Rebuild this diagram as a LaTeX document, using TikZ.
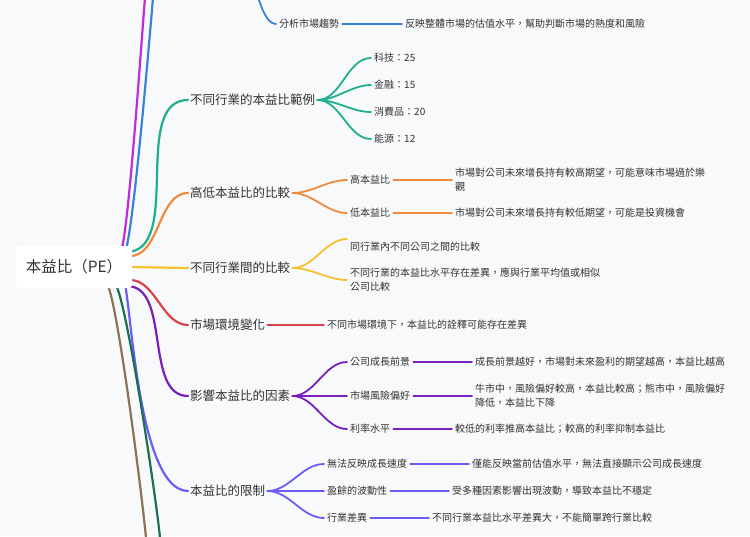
\documentclass[tikz,border=0pt]{standalone}
\usepackage{fontspec}
\setmainfont{Noto Sans CJK TC}
\definecolor{bgc}{HTML}{F8F9FB}
\definecolor{cmag}{HTML}{C02AD8}
\definecolor{cblue}{HTML}{3B82D6}
\definecolor{cteal}{HTML}{1FAE8F}
\definecolor{corange}{HTML}{F08A3C}
\definecolor{cyellow}{HTML}{F7C12E}
\definecolor{cred}{HTML}{D9434C}
\definecolor{cpurple}{HTML}{7A1FBF}
\definecolor{cviolet}{HTML}{6B5CF6}
\definecolor{cgreen}{HTML}{1B6F54}
\definecolor{cbrown}{HTML}{8B7355}
\definecolor{ctext}{HTML}{333333}
\tikzset{
  branch/.style={anchor=west,font=\fontsize{12.5}{15}\selectfont,text=ctext,inner sep=2pt},
  sub/.style={anchor=west,font=\fontsize{10}{14}\selectfont,text=ctext,inner sep=3pt,align=left},
  leaf/.style={anchor=west,font=\fontsize{10}{14}\selectfont,text=ctext,inner sep=3pt,align=left},
  link/.style={line width=2.2pt,line cap=round},
  sublink/.style={line width=1.8pt,line cap=round},
  sbend/.style={out=0,in=180,looseness=0.9},
}
\begin{document}
\begin{tikzpicture}[x=1pt,y=-1pt]
\fill[bgc] (0,0) rectangle (750,536);
\useasboundingbox (0,0) rectangle (750,536);

% root ports
\coordinate (pmag) at (118,250);
\coordinate (pblue) at (122,250);
\coordinate (pteal) at (126,252);
\coordinate (porange) at (130,256);
\coordinate (pyellow) at (130,267);
\coordinate (pred) at (130,280);
\coordinate (ppurple) at (127,286);
\coordinate (pviolet) at (120,287);
\coordinate (pgreen) at (112,287);
\coordinate (pbrown) at (104,287);
\coordinate (emag) at (145,-2);
\coordinate (eblue) at (153,-2);
\coordinate (egreen) at (160,538);
\coordinate (ebrown) at (146,538);
\coordinate (bluepar) at (248,-30);

% branch nodes
\node[branch] (b3) at (188,100) {不同行業的本益比範例};
\node[branch] (b4) at (188,193) {高低本益比的比較};
\node[branch] (b5) at (188,268) {不同行業間的比較};
\node[branch] (b6) at (188,325) {市場環境變化};
\node[branch] (b7) at (188,396) {影響本益比的因素};
\node[branch] (b8) at (188,491) {本益比的限制};

% blue sub (partly off canvas)
\node[leaf] (s2old) at (363,-4) {機會};
\node[sub] (s2) at (276,24) {分析市場趨勢};
\node[leaf] (l2) at (402,24) {反映整體市場的估值水平，幫助判斷市場的熱度和風險};

% teal
\node[sub] (s31) at (371,58) {科技：25};
\node[sub] (s32) at (371,85) {金融：15};
\node[sub] (s33) at (371,112) {消費品：20};
\node[sub] (s34) at (371,139) {能源：12};

% orange
\node[sub] (s41) at (347,180) {高本益比};
\node[sub] (s42) at (347,213) {低本益比};
\node[leaf] (l41) at (452,180) {市場對公司未來增長持有較高期望，可能意味市場過於樂\\觀};
\node[leaf] (l42) at (452,213) {市場對公司未來增長持有較低期望，可能是投資機會};

% yellow
\node[sub] (s51) at (347,247) {同行業內不同公司之間的比較};
\node[sub] (s52) at (347,280) {不同行業的本益比水平存在差異，應與行業平均值或相似\\公司比較};

% red
\node[leaf] (l6) at (324,325) {不同市場環境下，本益比的詮釋可能存在差異};

% purple
\node[sub] (s71) at (347,362) {公司成長前景};
\node[sub] (s72) at (347,396) {市場風險偏好};
\node[sub] (s73) at (347,429) {利率水平};
\node[leaf] (l71) at (472,362) {成長前景越好，市場對未來盈利的期望越高，本益比越高};
\node[leaf] (l72) at (472,396) {牛市中，風險偏好較高，本益比較高；熊市中，風險偏好\\降低，本益比下降};
\node[leaf] (l73) at (452,429) {較低的利率推高本益比；較高的利率抑制本益比};

% violet
\node[sub] (s81) at (324,464) {無法反映成長速度};
\node[sub] (s82) at (324,491) {盈餘的波動性};
\node[sub] (s83) at (324,518) {行業差異};
\node[leaf] (l81) at (469,464) {僅能反映當前估值水平，無法直接顯示公司成長速度};
\node[leaf] (l82) at (449,491) {受多種因素影響出現波動，導致本益比不穩定};
\node[leaf] (l83) at (429,518) {不同行業本益比水平差異大，不能簡單跨行業比較};

% main links
\draw[link,cmag] (pmag) to[out=-80,in=-95,looseness=0.4] (emag);
\draw[link,cblue] (pblue) to[out=-80,in=-95,looseness=0.4] (eblue);
\draw[link,cteal] (pteal) to[sbend] (b3.west);
\draw[link,corange] (porange) to[sbend] (b4.west);
\draw[link,cyellow] (pyellow) -- (b5.west);
\draw[link,cred] (pred) to[sbend] (b6.west);
\draw[link,cpurple] (ppurple) to[sbend] (b7.west);
\draw[link,cviolet] (pviolet) to[out=80,in=180,looseness=0.7] (b8.west);
\draw[link,cgreen] (pgreen) to[out=80,in=95,looseness=0.4] (egreen);
\draw[link,cbrown] (pbrown) to[out=80,in=95,looseness=0.4] (ebrown);

% sub links
\draw[sublink,cblue] (bluepar) to[out=80,in=180,looseness=0.8] (s2.west);
\draw[sublink,cblue] (s2.east) -- (l2.west);
\foreach \s in {s31,s32,s33,s34}
  \draw[sublink,cteal] (b3.east) to[sbend] (\s.west);
\foreach \s/\l in {s41/l41,s42/l42}{
  \draw[sublink,corange] (b4.east) to[sbend] (\s.west);
  \draw[sublink,corange] (\s.east) -- (\l.west);
}
\draw[sublink,cyellow] (b5.east) to[sbend] ([yshift=8pt]s51.west);
\draw[sublink,cyellow] (b5.east) to[sbend] (s52.west);
\draw[sublink,cred] (b6.east) -- (l6.west);
\foreach \s/\l in {s71/l71,s72/l72,s73/l73}{
  \draw[sublink,cpurple] (b7.east) to[sbend] (\s.west);
  \draw[sublink,cpurple] (\s.east) -- (\l.west);
}
\foreach \s/\l in {s81/l81,s82/l82,s83/l83}{
  \draw[sublink,cviolet] (b8.east) to[sbend] (\s.west);
  \draw[sublink,cviolet] (\s.east) -- (\l.west);
}

% root box on top
\node[fill=white,rounded corners=3pt,minimum width=116pt,minimum height=42pt,
  font=\fontsize{15.5}{18}\selectfont,text=ctext] (root) at (74,267) {本益比（PE）};
\end{tikzpicture}
\end{document}
